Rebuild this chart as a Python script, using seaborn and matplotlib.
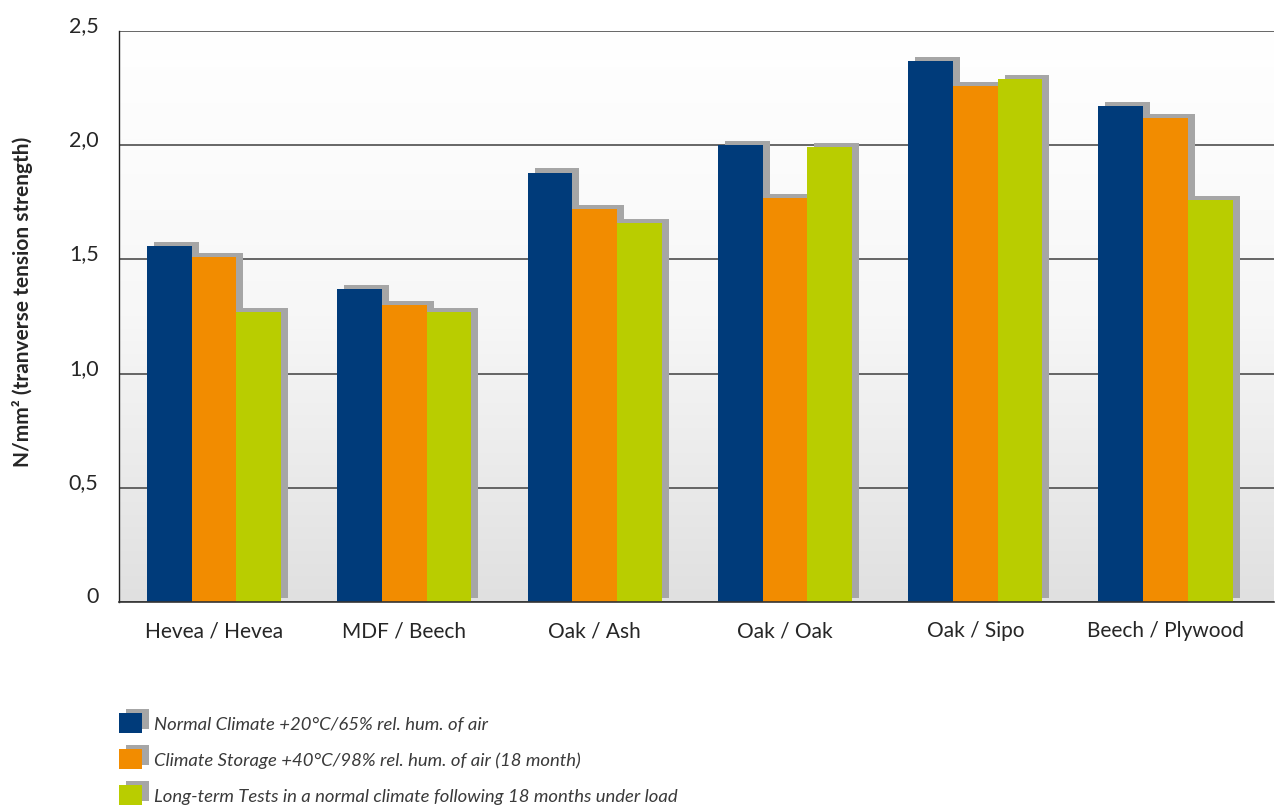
import matplotlib
matplotlib.use("Agg")
import matplotlib.pyplot as plt
import matplotlib.patheffects as pe
from matplotlib.colors import LinearSegmentedColormap
from matplotlib.patches import Patch
import numpy as np
import pandas as pd
import seaborn as sns

categories = ["Hevea / Hevea", "MDF / Beech", "Oak / Ash", "Oak / Oak", "Oak / Sipo", "Beech / Plywood"]
series = ["Normal Climate +20°C/65% rel. hum. of air",
          "Climate Storage +40°C/98% rel. hum. of air (18 month)",
          "Long-term Tests in a normal climate following 18 months under load"]
normal_climate = [1.56, 1.37, 1.88, 2.00, 2.37, 2.17]
climate_storage = [1.51, 1.30, 1.72, 1.77, 2.26, 2.12]
long_term = [1.27, 1.27, 1.66, 1.99, 2.29, 1.76]
y_ticks = [0, 0.5, 1.0, 1.5, 2.0, 2.5]
y_tick_labels = ["0", "0,5", "1,0", "1,5", "2,0", "2,5"]
colors = ["#003b7a", "#f28c00", "#b9cd00"]

df = pd.DataFrame({
    "pair": categories * 3,
    "series": np.repeat(series, len(categories)),
    "value": normal_climate + climate_storage + long_term,
})

sns.set_style("white")
plt.rcParams["font.family"] = ["Lato", "DejaVu Sans"]

fig = plt.figure(figsize=(12.8, 8.12), dpi=100)
ax = fig.add_axes([119 / 1280, 209 / 812, 1155 / 1280, 571 / 812])

# background gradient
bg = LinearSegmentedColormap.from_list("bg", ["#ffffff", "#f7f7f7", "#e0e0e0"])
ax.imshow(np.linspace(0, 1, 256).reshape(-1, 1), cmap=bg, aspect="auto",
          extent=[-0.5, 5.57, 0, 2.5], zorder=0)

sns.barplot(data=df, x="pair", y="value", hue="series", palette=colors, saturation=1,
            width=0.705, linewidth=0, legend=False, ax=ax)

shadow = [pe.SimplePatchShadow(offset=(5, 3), shadow_rgbFace="#a6a6a6", alpha=1.0), pe.Normal()]
for bar in ax.patches:
    bar.set_path_effects(shadow)

ax.set_xlim(-0.5, 5.57)
ax.set_ylim(0, 2.5)
ax.set_axisbelow(True)
ax.yaxis.grid(True, color="#4d4d4d", lw=1.2)
ax.set_yticks(y_ticks)
ax.set_yticklabels(y_tick_labels, fontsize=15.5, va="baseline")
ax.tick_params(axis="y", length=13.7, width=1.2, color="#4d4d4d", pad=1)
ax.set_xticks(range(len(categories)))
ax.set_xticklabels(categories, fontsize=15)
ax.set_xticks(np.arange(-0.5, len(categories), 1), minor=True)
ax.tick_params(axis="x", which="major", length=0, pad=13)
ax.tick_params(axis="x", which="minor", length=13, width=1.2, color="#333333", direction="out")
ax.set_xlabel("")
ax.set_ylabel("")
for side in ["top", "right"]:
    ax.spines[side].set_visible(False)
ax.spines["left"].set_color("#222222")
ax.spines["left"].set_linewidth(1.0)
ax.spines["bottom"].set_color("#333333")
ax.spines["bottom"].set_linewidth(1.2)

fig.text(23 / 1280, 1 - 302 / 812, "N/mm² (tranverse tension strength)", rotation=90,
         ha="center", va="center", fontsize=15, fontweight="bold")

handles = [Patch(facecolor=c, linewidth=0) for c in colors]
leg = fig.legend(handles, series, loc="upper left", bbox_to_anchor=(119 / 1280, 1 - 714 / 812),
                 frameon=False, borderpad=0, borderaxespad=0, handlelength=1.24, handleheight=1.3,
                 handletextpad=0.65, labelspacing=0.85,
                 prop={"style": "italic", "weight": "normal", "size": 13.3})
for t in leg.get_texts():
    t.set_color("#3a3a3a")
for h in leg.legend_handles:
    h.set_path_effects(shadow)

fig.savefig("out.png", dpi=100)
